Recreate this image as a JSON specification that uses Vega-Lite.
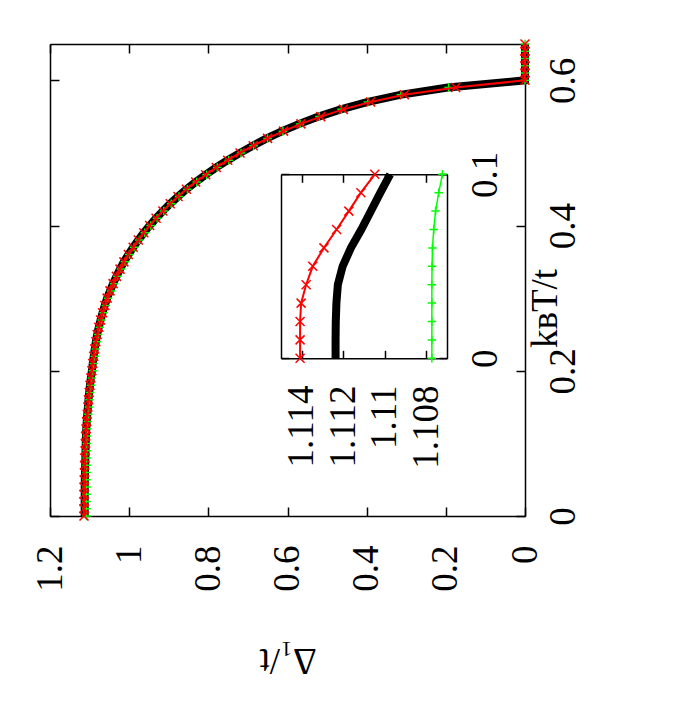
{
  "$schema": "https://vega.github.io/schema/vega-lite/v6.json",
  "width": 475,
  "height": 472,
  "autosize": "none",
  "padding": {"left": 50, "top": 44, "right": 175, "bottom": 194},
  "background": "white",
  "config": {
    "view": {"stroke": null},
    "axis": {
      "labelFont": "Liberation Serif", "titleFont": "Liberation Serif",
      "labelFontSize": 37, "titleFontSize": 37, "titleFontWeight": "normal",
      "labelColor": "black", "titleColor": "black",
      "domainColor": "black", "tickColor": "black",
      "domainWidth": 1.5, "tickWidth": 1.5,
      "grid": false, "labelFlush": false, "labelOverlap": false
    }
  },
  "datasets": {
    "d": [
      {"T": 0.00, "black": 1.11237, "red": 1.11408, "green": 1.10773},
      {"T": 0.01, "black": 1.11237, "red": 1.11408, "green": 1.10773},
      {"T": 0.02, "black": 1.11236, "red": 1.11408, "green": 1.10773},
      {"T": 0.03, "black": 1.11233, "red": 1.11403, "green": 1.10773},
      {"T": 0.04, "black": 1.11226, "red": 1.11379, "green": 1.10773},
      {"T": 0.05, "black": 1.11203, "red": 1.11347, "green": 1.10772},
      {"T": 0.06, "black": 1.11163, "red": 1.11293, "green": 1.10770},
      {"T": 0.07, "black": 1.11113, "red": 1.11232, "green": 1.10764},
      {"T": 0.08, "black": 1.11067, "red": 1.11173, "green": 1.10755},
      {"T": 0.09, "black": 1.11021, "red": 1.11115, "green": 1.10740},
      {"T": 0.10, "black": 1.10974, "red": 1.11048, "green": 1.10722},
      {"T": 0.11, "black": 1.1092, "red": 1.1098, "green": 1.1067},
      {"T": 0.12, "black": 1.1083, "red": 1.1088, "green": 1.1058},
      {"T": 0.13, "black": 1.1072, "red": 1.1075, "green": 1.1047},
      {"T": 0.14, "black": 1.1058, "red": 1.1059, "green": 1.1033},
      {"T": 0.15, "black": 1.1043, "red": 1.1043, "green": 1.1018},
      {"T": 0.16, "black": 1.1028, "red": 1.1028, "green": 1.1003},
      {"T": 0.17, "black": 1.1010, "red": 1.1010, "green": 1.0985},
      {"T": 0.18, "black": 1.0990, "red": 1.0990, "green": 1.0965},
      {"T": 0.19, "black": 1.0968, "red": 1.0968, "green": 1.0943},
      {"T": 0.20, "black": 1.0942, "red": 1.0942, "green": 1.0917},
      {"T": 0.21, "black": 1.0920, "red": 1.0920, "green": 1.0895},
      {"T": 0.22, "black": 1.0895, "red": 1.0895, "green": 1.0870},
      {"T": 0.23, "black": 1.0870, "red": 1.0870, "green": 1.0845},
      {"T": 0.24, "black": 1.0841, "red": 1.0841, "green": 1.0816},
      {"T": 0.25, "black": 1.0808, "red": 1.0808, "green": 1.0783},
      {"T": 0.26, "black": 1.0767, "red": 1.0767, "green": 1.0742},
      {"T": 0.27, "black": 1.0722, "red": 1.0722, "green": 1.0697},
      {"T": 0.28, "black": 1.0672, "red": 1.0672, "green": 1.0647},
      {"T": 0.29, "black": 1.0616, "red": 1.0616, "green": 1.0591},
      {"T": 0.30, "black": 1.0556, "red": 1.0556, "green": 1.0531},
      {"T": 0.31, "black": 1.0484, "red": 1.0484, "green": 1.0459},
      {"T": 0.32, "black": 1.0406, "red": 1.0406, "green": 1.0381},
      {"T": 0.33, "black": 1.0322, "red": 1.0322, "green": 1.0297},
      {"T": 0.34, "black": 1.0231, "red": 1.0231, "green": 1.0206},
      {"T": 0.35, "black": 1.0133, "red": 1.0133, "green": 1.0108},
      {"T": 0.36, "black": 1.0020, "red": 1.0020, "green": 0.9995},
      {"T": 0.37, "black": 0.9899, "red": 0.9899, "green": 0.9874},
      {"T": 0.38, "black": 0.9769, "red": 0.9769, "green": 0.9744},
      {"T": 0.39, "black": 0.9631, "red": 0.9631, "green": 0.9606},
      {"T": 0.40, "black": 0.9482, "red": 0.9482, "green": 0.9457},
      {"T": 0.41, "black": 0.9320, "red": 0.9320, "green": 0.9295},
      {"T": 0.42, "black": 0.9148, "red": 0.9148, "green": 0.9123},
      {"T": 0.43, "black": 0.8963, "red": 0.8963, "green": 0.8938},
      {"T": 0.44, "black": 0.8766, "red": 0.8766, "green": 0.8741},
      {"T": 0.45, "black": 0.8554, "red": 0.8554, "green": 0.8529},
      {"T": 0.46, "black": 0.8319, "red": 0.8319, "green": 0.8294},
      {"T": 0.47, "black": 0.8068, "red": 0.8068, "green": 0.8043},
      {"T": 0.48, "black": 0.7799, "red": 0.7799, "green": 0.7774},
      {"T": 0.49, "black": 0.7510, "red": 0.7510, "green": 0.7485},
      {"T": 0.50, "black": 0.7199, "red": 0.7199, "green": 0.7174},
      {"T": 0.51, "black": 0.6876, "red": 0.6866, "green": 0.6856},
      {"T": 0.52, "black": 0.6524, "red": 0.6504, "green": 0.6504},
      {"T": 0.53, "black": 0.6136, "red": 0.6100, "green": 0.6116},
      {"T": 0.54, "black": 0.5703, "red": 0.5660, "green": 0.5683},
      {"T": 0.55, "black": 0.5215, "red": 0.5160, "green": 0.5195},
      {"T": 0.56, "black": 0.4655, "red": 0.4590, "green": 0.4635},
      {"T": 0.57, "black": 0.3991, "red": 0.3900, "green": 0.3971},
      {"T": 0.58, "black": 0.3157, "red": 0.3050, "green": 0.3137},
      {"T": 0.59, "black": 0.1950, "red": 0.1750, "green": 0.1930},
      {"T": 0.60, "black": 0, "red": 0, "green": 0},
      {"T": 0.61, "black": 0, "red": 0, "green": 0},
      {"T": 0.62, "black": 0, "red": 0, "green": 0},
      {"T": 0.63, "black": 0, "red": 0, "green": 0},
      {"T": 0.64, "black": 0, "red": 0, "green": 0},
      {"T": 0.65, "black": 0, "red": 0, "green": 0}
    ]
  },
  "data": {"name": "d"},
  "resolve": {"scale": {"x": "independent", "y": "independent"}},
  "layer": [
    {
      "resolve": {"axis": {"x": "independent", "y": "independent"}},
      "layer": [
        {
          "mark": {"type": "line", "color": "#00ff00", "strokeWidth": 1.5},
          "encoding": {
            "x": {"field": "green", "type": "quantitative", "scale": {"domain": [0, 1.2], "reverse": true}, "axis": null},
            "y": {"field": "T", "type": "quantitative", "scale": {"domain": [0, 0.65]}, "axis": null},
            "order": {"field": "T", "type": "quantitative"}
          }
        },
        {
          "mark": {"type": "line", "color": "black", "strokeWidth": 8},
          "encoding": {
            "x": {"field": "black", "type": "quantitative",
              "scale": {"domain": [0, 1.2], "reverse": true},
              "axis": {"orient": "bottom", "values": [0, 0.2, 0.4, 0.6, 0.8, 1, 1.2], "format": "~g",
                "labelAngle": -90, "labelAlign": "right", "labelBaseline": "middle",
                "tickSize": -9, "labelPadding": 38,
                "title": "Δ₁/t", "titleAngle": 180, "titleBaseline": "middle", "titleAlign": "center",
                "titleX": 237.5, "titleY": 143}},
            "y": {"field": "T", "type": "quantitative",
              "scale": {"domain": [0, 0.65]},
              "axis": {"orient": "right", "values": [0, 0.2, 0.4, 0.6], "format": "~g",
                "labelAngle": -90, "labelAlign": "center", "labelBaseline": "top",
                "tickSize": -9, "labelPadding": 29,
                "title": "kʙT/t", "titleAngle": -90, "titleAlign": "center", "titleBaseline": "middle",
                "titleX": 20, "titleY": 264}},
            "order": {"field": "T", "type": "quantitative"}
          }
        },
        {
          "mark": {"type": "point", "shape": "M-1,0L1,0M0,-1L0,1", "filled": false, "color": "#00ff00", "strokeWidth": 1.5, "size": 72, "opacity": 1},
          "encoding": {
            "x": {"field": "green", "type": "quantitative", "scale": {"domain": [0, 1.2], "reverse": true}, "axis": null},
            "y": {"field": "T", "type": "quantitative", "scale": {"domain": [0, 0.65]}, "axis": null}
          }
        },
        {
          "mark": {"type": "line", "color": "#ff0000", "strokeWidth": 2},
          "encoding": {
            "x": {"field": "red", "type": "quantitative",
              "scale": {"domain": [0, 1.2], "reverse": true},
              "axis": {"orient": "top", "values": [0, 0.2, 0.4, 0.6, 0.8, 1, 1.2], "labels": false, "tickSize": -9, "title": null}},
            "y": {"field": "T", "type": "quantitative",
              "scale": {"domain": [0, 0.65]},
              "axis": {"orient": "left", "values": [0, 0.2, 0.4, 0.6], "labels": false, "tickSize": -9, "title": null}},
            "order": {"field": "T", "type": "quantitative"}
          }
        },
        {
          "mark": {"type": "point", "shape": "M-1,-1L1,1M-1,1L1,-1", "filled": false, "color": "#ff0000", "strokeWidth": 1.5, "size": 81, "opacity": 1},
          "encoding": {
            "x": {"field": "red", "type": "quantitative", "scale": {"domain": [0, 1.2], "reverse": true}, "axis": null},
            "y": {"field": "T", "type": "quantitative", "scale": {"domain": [0, 0.65]}, "axis": null}
          }
        }
      ]
    },
    {
      "transform": [{"filter": "datum.T <= 0.1001"}],
      "resolve": {"axis": {"x": "independent", "y": "independent"}},
      "layer": [
        {
          "mark": {"type": "line", "color": "black", "strokeWidth": 8},
          "encoding": {
            "x": {"field": "black", "type": "quantitative",
              "scale": {"domain": [1.107, 1.115], "range": [397, 231]},
              "axis": {"orient": "bottom", "offset": -157.7, "values": [1.108, 1.11, 1.112, 1.114], "format": "~g",
                "labelAngle": -90, "labelAlign": "right", "labelBaseline": "middle",
                "tickSize": -8, "labelPadding": 34.7, "title": null}},
            "y": {"field": "T", "type": "quantitative",
              "scale": {"domain": [0, 0.1], "range": [314.3, 130.3]},
              "axis": {"orient": "right", "offset": -78, "values": [0, 0.1], "format": "~g",
                "labelAngle": -90, "labelAlign": "center", "labelBaseline": "top",
                "tickSize": -8, "labelPadding": 28.7, "title": null}},
            "order": {"field": "T", "type": "quantitative"}
          }
        },
        {
          "mark": {"type": "line", "color": "#ff0000", "strokeWidth": 2},
          "encoding": {
            "x": {"field": "red", "type": "quantitative",
              "scale": {"domain": [1.107, 1.115], "range": [397, 231]},
              "axis": {"orient": "top", "offset": -130.3, "values": [1.108, 1.11, 1.112, 1.114], "labels": false, "tickSize": -8, "title": null}},
            "y": {"field": "T", "type": "quantitative",
              "scale": {"domain": [0, 0.1], "range": [314.3, 130.3]},
              "axis": {"orient": "left", "offset": -231, "values": [0, 0.1], "labels": false, "tickSize": -8, "title": null}},
            "order": {"field": "T", "type": "quantitative"}
          }
        },
        {
          "mark": {"type": "point", "shape": "M-1,-1L1,1M-1,1L1,-1", "filled": false, "color": "#ff0000", "strokeWidth": 1.5, "size": 81, "opacity": 1},
          "encoding": {
            "x": {"field": "red", "type": "quantitative", "scale": {"domain": [1.107, 1.115], "range": [397, 231]}, "axis": null},
            "y": {"field": "T", "type": "quantitative", "scale": {"domain": [0, 0.1], "range": [314.3, 130.3]}, "axis": null}
          }
        },
        {
          "mark": {"type": "line", "color": "#00ff00", "strokeWidth": 1.5},
          "encoding": {
            "x": {"field": "green", "type": "quantitative", "scale": {"domain": [1.107, 1.115], "range": [397, 231]}, "axis": null},
            "y": {"field": "T", "type": "quantitative", "scale": {"domain": [0, 0.1], "range": [314.3, 130.3]}, "axis": null},
            "order": {"field": "T", "type": "quantitative"}
          }
        },
        {
          "mark": {"type": "point", "shape": "M-1,0L1,0M0,-1L0,1", "filled": false, "color": "#00ff00", "strokeWidth": 1.5, "size": 72, "opacity": 1},
          "encoding": {
            "x": {"field": "green", "type": "quantitative", "scale": {"domain": [1.107, 1.115], "range": [397, 231]}, "axis": null},
            "y": {"field": "T", "type": "quantitative", "scale": {"domain": [0, 0.1], "range": [314.3, 130.3]}, "axis": null}
          }
        }
      ]
    }
  ]
}
